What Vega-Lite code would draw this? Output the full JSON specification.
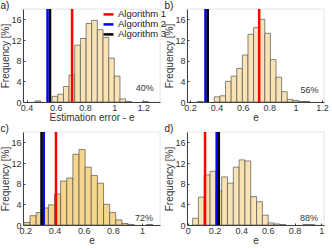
{
  "$schema": "https://vega.github.io/schema/vega-lite/v6.json",
  "padding": {"left": 0, "top": 0, "right": 0, "bottom": 0},
  "config": {
    "font": "Liberation Sans",
    "view": {"stroke": "#d0d0d0", "strokeWidth": 0.6},
    "axis": {
      "grid": false,
      "domainColor": "#404040",
      "tickColor": "#404040",
      "tickSize": -2,
      "labelPadding": 2,
      "labelFontSize": 9,
      "labelColor": "#333333",
      "labelOverlap": false,
      "labelFlush": false,
      "labelBound": false,
      "titleFontSize": 10,
      "titleFontWeight": "normal",
      "titleColor": "#333333",
      "titlePadding": 1
    },
    "axisX": {"labelPadding": 3, "titlePadding": 0},
    "axisY": {"labelPadding": 4, "titlePadding": 0.5},
    "title": {"fontSize": 10, "fontWeight": "normal", "color": "#222222", "anchor": "start", "frame": "bounds", "offset": -3}
  },
  "datasets": {
    "a": [
      {"kind": "bar", "start": 0.459, "end": 0.498, "freq": 0.2},
      {"kind": "bar", "start": 0.575, "end": 0.614, "freq": 1.1},
      {"kind": "bar", "start": 0.614, "end": 0.653, "freq": 1.5},
      {"kind": "bar", "start": 0.653, "end": 0.691, "freq": 3.0},
      {"kind": "bar", "start": 0.691, "end": 0.730, "freq": 5.2},
      {"kind": "bar", "start": 0.730, "end": 0.769, "freq": 11.0},
      {"kind": "bar", "start": 0.769, "end": 0.808, "freq": 12.3},
      {"kind": "bar", "start": 0.808, "end": 0.846, "freq": 15.2},
      {"kind": "bar", "start": 0.846, "end": 0.885, "freq": 15.8},
      {"kind": "bar", "start": 0.885, "end": 0.924, "freq": 14.0},
      {"kind": "bar", "start": 0.924, "end": 0.963, "freq": 12.5},
      {"kind": "bar", "start": 0.963, "end": 1.001, "freq": 8.5},
      {"kind": "bar", "start": 1.001, "end": 1.040, "freq": 5.0},
      {"kind": "bar", "start": 1.040, "end": 1.079, "freq": 0.6},
      {"kind": "bar", "start": 1.079, "end": 1.118, "freq": 0.1},
      {"kind": "bar", "start": 1.196, "end": 1.234, "freq": 0.1},
      {"kind": "line", "alg": "Algorithm 1", "start": 0.712},
      {"kind": "line", "alg": "Algorithm 2", "start": 0.544},
      {"kind": "line", "alg": "Algorithm 3", "start": 0.561},
      {"kind": "pct", "start": 1.21, "freq": 2.7, "label": "40%"}
    ],
    "b": [
      {"kind": "bar", "start": 0.2565, "end": 0.299, "freq": 0.1},
      {"kind": "bar", "start": 0.384, "end": 0.4265, "freq": 1.0},
      {"kind": "bar", "start": 0.4265, "end": 0.469, "freq": 1.2},
      {"kind": "bar", "start": 0.469, "end": 0.5115, "freq": 4.0},
      {"kind": "bar", "start": 0.5115, "end": 0.554, "freq": 5.0},
      {"kind": "bar", "start": 0.554, "end": 0.5965, "freq": 6.5},
      {"kind": "bar", "start": 0.5965, "end": 0.639, "freq": 9.1},
      {"kind": "bar", "start": 0.639, "end": 0.6815, "freq": 13.1},
      {"kind": "bar", "start": 0.6815, "end": 0.724, "freq": 14.4},
      {"kind": "bar", "start": 0.724, "end": 0.7665, "freq": 16.0},
      {"kind": "bar", "start": 0.7665, "end": 0.809, "freq": 13.3},
      {"kind": "bar", "start": 0.809, "end": 0.8515, "freq": 8.2},
      {"kind": "bar", "start": 0.8515, "end": 0.894, "freq": 4.8},
      {"kind": "bar", "start": 0.894, "end": 0.9365, "freq": 2.0},
      {"kind": "bar", "start": 0.9365, "end": 0.979, "freq": 0.5},
      {"kind": "bar", "start": 0.979, "end": 1.0215, "freq": 0.3},
      {"kind": "bar", "start": 1.0215, "end": 1.064, "freq": 0.1},
      {"kind": "bar", "start": 1.064, "end": 1.1065, "freq": 0.1},
      {"kind": "line", "alg": "Algorithm 1", "start": 0.724},
      {"kind": "line", "alg": "Algorithm 2", "start": 0.317},
      {"kind": "line", "alg": "Algorithm 3", "start": 0.334},
      {"kind": "pct", "start": 1.105, "freq": 2.3, "label": "56%"}
    ],
    "c": [
      {"kind": "bar", "start": 0.19, "end": 0.232, "freq": 0.5},
      {"kind": "bar", "start": 0.232, "end": 0.274, "freq": 1.8},
      {"kind": "bar", "start": 0.274, "end": 0.316, "freq": 2.4},
      {"kind": "bar", "start": 0.316, "end": 0.358, "freq": 3.3},
      {"kind": "bar", "start": 0.358, "end": 0.40, "freq": 3.9},
      {"kind": "bar", "start": 0.40, "end": 0.442, "freq": 6.0},
      {"kind": "bar", "start": 0.442, "end": 0.484, "freq": 8.5},
      {"kind": "bar", "start": 0.484, "end": 0.526, "freq": 9.1},
      {"kind": "bar", "start": 0.526, "end": 0.568, "freq": 13.7},
      {"kind": "bar", "start": 0.568, "end": 0.61, "freq": 14.6},
      {"kind": "bar", "start": 0.61, "end": 0.652, "freq": 11.2},
      {"kind": "bar", "start": 0.652, "end": 0.694, "freq": 9.6},
      {"kind": "bar", "start": 0.694, "end": 0.736, "freq": 8.1},
      {"kind": "bar", "start": 0.736, "end": 0.778, "freq": 4.0},
      {"kind": "bar", "start": 0.778, "end": 0.82, "freq": 2.4},
      {"kind": "bar", "start": 0.82, "end": 0.862, "freq": 1.0},
      {"kind": "bar", "start": 0.862, "end": 0.904, "freq": 0.3},
      {"kind": "bar", "start": 0.904, "end": 0.946, "freq": 0.1},
      {"kind": "bar", "start": 1.03, "end": 1.072, "freq": 0.1},
      {"kind": "line", "alg": "Algorithm 1", "start": 0.41},
      {"kind": "line", "alg": "Algorithm 2", "start": 0.326},
      {"kind": "line", "alg": "Algorithm 3", "start": 0.311},
      {"kind": "pct", "start": 1.014, "freq": 1.4, "label": "72%"}
    ],
    "d": [
      {"kind": "bar", "start": 0.037, "end": 0.0805, "freq": 1.3},
      {"kind": "bar", "start": 0.0805, "end": 0.124, "freq": 5.4},
      {"kind": "bar", "start": 0.124, "end": 0.1675, "freq": 9.7},
      {"kind": "bar", "start": 0.1675, "end": 0.211, "freq": 10.4},
      {"kind": "bar", "start": 0.211, "end": 0.2545, "freq": 6.6},
      {"kind": "bar", "start": 0.2545, "end": 0.298, "freq": 9.3},
      {"kind": "bar", "start": 0.298, "end": 0.3415, "freq": 8.1},
      {"kind": "bar", "start": 0.3415, "end": 0.385, "freq": 11.2},
      {"kind": "bar", "start": 0.385, "end": 0.4285, "freq": 12.6},
      {"kind": "bar", "start": 0.4285, "end": 0.472, "freq": 12.4},
      {"kind": "bar", "start": 0.472, "end": 0.5155, "freq": 5.5},
      {"kind": "bar", "start": 0.5155, "end": 0.559, "freq": 4.5},
      {"kind": "bar", "start": 0.559, "end": 0.6025, "freq": 1.9},
      {"kind": "bar", "start": 0.6025, "end": 0.646, "freq": 0.4},
      {"kind": "bar", "start": 0.646, "end": 0.6895, "freq": 0.2},
      {"kind": "bar", "start": 0.6895, "end": 0.733, "freq": 0.1},
      {"kind": "bar", "start": 0.8635, "end": 0.907, "freq": 0.1},
      {"kind": "bar", "start": 0.907, "end": 0.9505, "freq": 0.1},
      {"kind": "line", "alg": "Algorithm 1", "start": 0.13},
      {"kind": "line", "alg": "Algorithm 2", "start": 0.217},
      {"kind": "line", "alg": "Algorithm 3", "start": 0.233},
      {"kind": "pct", "start": 0.907, "freq": 1.4, "label": "88%"}
    ]
  },
  "vconcat": [
    {
      "hconcat": [
        {
          "width": 137, "height": 93,
          "title": {"text": "a)", "dx": 0},
          "data": {"name": "a"},
          "encoding": {
            "x": {"field": "start", "type": "quantitative", "scale": {"domain": [0.376, 1.314], "nice": false, "zero": false}, "axis": {"values": [0.4, 0.6, 0.8, 1, 1.2], "tickCount": 10, "labelOverlap": false, "format": "~g", "title": "Estimation error - e"}},
            "y": {"field": "freq", "type": "quantitative", "scale": {"domain": [0, 18], "nice": false}, "axis": {"values": [0, 4, 8, 12, 16], "tickCount": 10, "labelOverlap": false, "title": "Frequency [%]"}}
          },
          "layer": [
            {
              "transform": [{"filter": "datum.kind == 'bar'"}],
              "mark": {"type": "rect", "fill": "#f9e3b4", "stroke": "#555555", "strokeWidth": 0.7, "clip": true},
              "encoding": {"x2": {"field": "end"}, "y2": {"datum": 0}}
            },
            {
              "transform": [{"filter": "datum.kind == 'line'"}],
              "mark": {"type": "rule", "strokeWidth": 2.5},
              "encoding": {
                "y": null,
                "color": {
                  "field": "alg", "type": "nominal",
                  "scale": {"domain": ["Algorithm 1", "Algorithm 2", "Algorithm 3"], "range": ["#ff0000", "#0000ff", "#000000"]},
                  "legend": {"orient": "none", "legendX": 79, "legendY": 1, "title": null, "symbolType": "stroke", "symbolSize": 100, "symbolStrokeWidth": 2.5, "labelFontSize": 9.5, "labelColor": "#222222", "labelOffset": 3, "rowPadding": 0, "clipHeight": 8.8, "padding": 0}
                }
              }
            },
            {
              "transform": [{"filter": "datum.kind == 'pct'"}],
              "mark": {"type": "text", "fontSize": 9, "color": "#333333"},
              "encoding": {"text": {"field": "label"}}
            }
          ]
        },
        {
          "width": 137, "height": 93,
          "title": {"text": "b)", "dx": 0},
          "data": {"name": "b"},
          "encoding": {
            "x": {"field": "start", "type": "quantitative", "scale": {"domain": [0.177, 1.215], "nice": false, "zero": false}, "axis": {"values": [0.2, 0.4, 0.6, 0.8, 1, 1.2], "tickCount": 10, "labelOverlap": false, "format": "~g", "title": "e"}},
            "y": {"field": "freq", "type": "quantitative", "scale": {"domain": [0, 18], "nice": false}, "axis": {"values": [0, 4, 8, 12, 16], "tickCount": 10, "labelOverlap": false, "title": "Frequency [%]"}}
          },
          "layer": [
            {
              "transform": [{"filter": "datum.kind == 'bar'"}],
              "mark": {"type": "rect", "fill": "#f9e3b4", "stroke": "#555555", "strokeWidth": 0.7, "clip": true},
              "encoding": {"x2": {"field": "end"}, "y2": {"datum": 0}}
            },
            {
              "transform": [{"filter": "datum.kind == 'line'"}],
              "mark": {"type": "rule", "strokeWidth": 2.5},
              "encoding": {
                "y": null,
                "color": {"field": "alg", "type": "nominal", "scale": {"domain": ["Algorithm 1", "Algorithm 2", "Algorithm 3"], "range": ["#ff0000", "#0000ff", "#000000"]}, "legend": null}
              }
            },
            {
              "transform": [{"filter": "datum.kind == 'pct'"}],
              "mark": {"type": "text", "fontSize": 9, "color": "#333333"},
              "encoding": {"text": {"field": "label"}}
            }
          ]
        }
      ],
      "spacing": 3
    },
    {
      "hconcat": [
        {
          "width": 137, "height": 93,
          "title": {"text": "c)", "dx": 0},
          "data": {"name": "c"},
          "encoding": {
            "x": {"field": "start", "type": "quantitative", "scale": {"domain": [0.184, 1.123], "nice": false, "zero": false}, "axis": {"values": [0.2, 0.4, 0.6, 0.8, 1], "tickCount": 10, "labelOverlap": false, "format": "~g", "title": "e"}},
            "y": {"field": "freq", "type": "quantitative", "scale": {"domain": [0, 18], "nice": false}, "axis": {"values": [0, 4, 8, 12, 16], "tickCount": 10, "labelOverlap": false, "title": "Frequency [%]"}}
          },
          "layer": [
            {
              "transform": [{"filter": "datum.kind == 'bar'"}],
              "mark": {"type": "rect", "fill": "#f5d68c", "stroke": "#555555", "strokeWidth": 0.7, "clip": true},
              "encoding": {"x2": {"field": "end"}, "y2": {"datum": 0}}
            },
            {
              "transform": [{"filter": "datum.kind == 'line'"}],
              "mark": {"type": "rule", "strokeWidth": 2.5},
              "encoding": {
                "y": null,
                "color": {"field": "alg", "type": "nominal", "scale": {"domain": ["Algorithm 1", "Algorithm 2", "Algorithm 3"], "range": ["#ff0000", "#0000ff", "#000000"]}, "legend": null}
              }
            },
            {
              "transform": [{"filter": "datum.kind == 'pct'"}],
              "mark": {"type": "text", "fontSize": 9, "color": "#333333"},
              "encoding": {"text": {"field": "label"}}
            }
          ]
        },
        {
          "width": 137, "height": 93,
          "title": {"text": "d)", "dx": 0},
          "data": {"name": "d"},
          "encoding": {
            "x": {"field": "start", "type": "quantitative", "scale": {"domain": [-0.005, 1.02], "nice": false, "zero": false}, "axis": {"values": [0, 0.2, 0.4, 0.6, 0.8, 1], "tickCount": 10, "labelOverlap": false, "format": "~g", "title": "e"}},
            "y": {"field": "freq", "type": "quantitative", "scale": {"domain": [0, 18], "nice": false}, "axis": {"values": [0, 4, 8, 12, 16], "tickCount": 10, "labelOverlap": false, "title": "Frequency [%]"}}
          },
          "layer": [
            {
              "transform": [{"filter": "datum.kind == 'bar'"}],
              "mark": {"type": "rect", "fill": "#f9e3b4", "stroke": "#555555", "strokeWidth": 0.7, "clip": true},
              "encoding": {"x2": {"field": "end"}, "y2": {"datum": 0}}
            },
            {
              "transform": [{"filter": "datum.kind == 'line'"}],
              "mark": {"type": "rule", "strokeWidth": 2.5},
              "encoding": {
                "y": null,
                "color": {"field": "alg", "type": "nominal", "scale": {"domain": ["Algorithm 1", "Algorithm 2", "Algorithm 3"], "range": ["#ff0000", "#0000ff", "#000000"]}, "legend": null}
              }
            },
            {
              "transform": [{"filter": "datum.kind == 'pct'"}],
              "mark": {"type": "text", "fontSize": 9, "color": "#333333"},
              "encoding": {"text": {"field": "label"}}
            }
          ]
        }
      ],
      "spacing": 3
    }
  ],
  "spacing": 0
}
